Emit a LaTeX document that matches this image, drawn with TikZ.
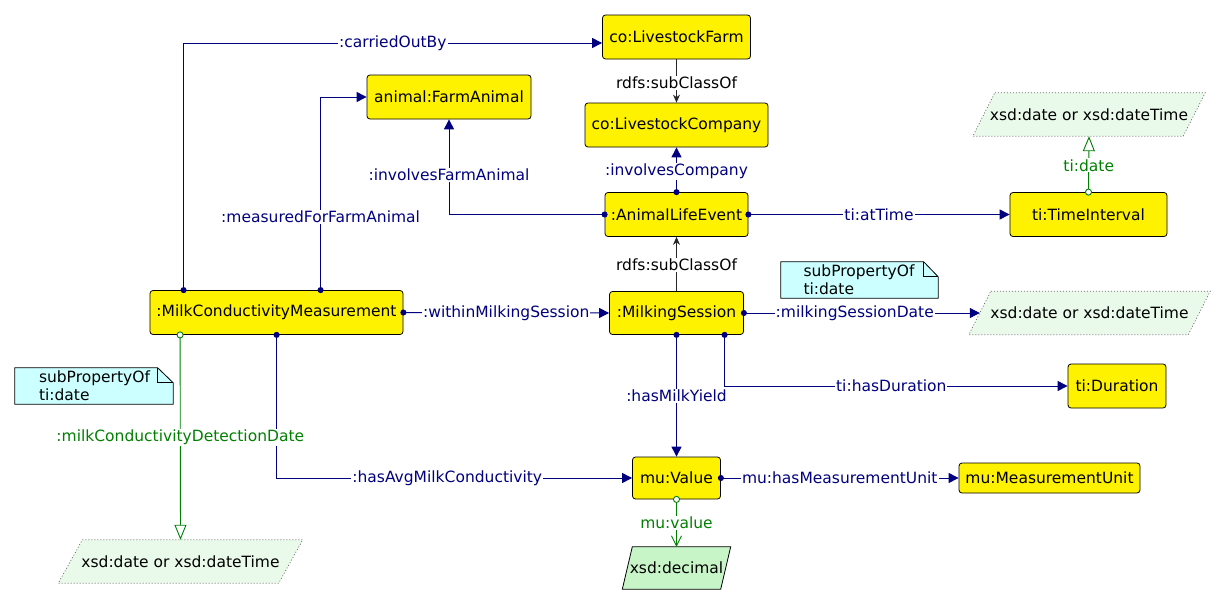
\documentclass[tikz,border=0pt]{standalone}
\usepackage{fontspec}
\setmainfont{DejaVu Sans}
\usetikzlibrary{arrows.meta,calc,backgrounds}
\definecolor{navy}{RGB}{0,0,128}
\definecolor{dgreen}{RGB}{0,128,0}
\definecolor{notecyan}{RGB}{204,255,255}
\definecolor{litgreen}{RGB}{234,250,234}
\definecolor{decgreen}{RGB}{200,245,200}
\newcommand\drawpara[3]{\begin{scope}[on background layer]\path[#3] ($(#1.north west)+(#2,0)$) -- (#1.north east) -- ($(#1.south east)-(#2,0)$) -- (#1.south west) -- cycle;\end{scope}}
\newcommand\drawnotebox[3]{\begin{scope}[on background layer]
\draw[draw=black,line width=0.8pt,fill=notecyan] (#1.north west) -- ($(#1.north east)+(-#2,0)$) -- ($(#1.north east)+(0,#3)$) |- (#1.south west) -- cycle;
\draw[line width=0.8pt] ($(#1.north east)+(-#2,0)$) |- ($(#1.north east)+(0,#3)$);
\end{scope}}
\begin{document}
\begin{tikzpicture}[x=1pt,y=-1pt,
  font=\fontsize{15.5}{18}\selectfont,
  cls/.style={draw=black,line width=0.8pt,fill=yellow,rounded corners=3pt,inner sep=0pt,minimum height=44pt,text=black},
  lit/.style={inner sep=0pt,minimum height=43pt,text=black},
  litbox/.style={draw=black!60,fill=litgreen,line width=0.7pt,dash pattern=on 1pt off 2pt},
  decbox/.style={draw=black,fill=decgreen,line width=0.8pt},
  prop/.style={navy,line width=1pt,{Circle[length=6pt]}-{Triangle[length=10pt,width=10pt]},shorten <=-3pt},
  dprop/.style={dgreen,line width=0.9pt,{Circle[open,length=7pt,fill=white]}-{Triangle[open,length=15pt,width=12pt,fill=white]},shorten <=-3.5pt},
  subc/.style={black!85,line width=0.9pt,-{Stealth[length=8pt,width=7pt]}},
  lab/.style={fill=white,inner sep=1pt,text=navy},
  glab/.style={fill=white,inner sep=1pt,text=dgreen},
  blab/.style={fill=white,inner sep=1pt,text=black},
  notetext/.style={anchor=west,align=left,inner sep=0pt,text=black},
  notebox/.style={minimum width=157pt,minimum height=36pt,inner sep=0pt}
]
\begin{scope}[on background layer]
\fill[white] (0,0) rectangle (1224,605);
\end{scope}
\useasboundingbox (0,0) rectangle (1224,605);

% class nodes
\node[cls,minimum width=148pt] (farm) at (676.5,37) {co:LivestockFarm};
\node[cls,minimum width=183pt] (comp) at (676.5,125) {co:LivestockCompany};
\node[cls,minimum width=164pt] (animal) at (449,97) {animal:FarmAnimal};
\node[cls,minimum width=143pt] (ale) at (676.5,214.5) {:AnimalLifeEvent};
\node[cls,minimum width=157pt] (ti) at (1088.5,214.5) {ti:TimeInterval};
\node[cls,minimum width=253pt] (mcm) at (276.5,312.5) {:MilkConductivityMeasurement};
\node[cls,minimum width=134pt,minimum height=43pt] (ms) at (676.5,313) {:MilkingSession};
\node[cls,minimum width=98pt] (dur) at (1117,386) {ti:Duration};
\node[cls,minimum width=88pt,minimum height=42pt] (val) at (676.5,478) {mu:Value};
\node[cls,minimum width=181pt,minimum height=30pt] (mu) at (1049.5,478) {mu:MeasurementUnit};

% literal nodes
\node[lit,minimum width=232pt] (xsdTR) at (1089,114.5) {xsd:date or xsd:dateTime};
\drawpara{xsdTR}{22}{litbox}
\node[lit,minimum width=241pt] (xsdR) at (1089.5,313) {xsd:date or xsd:dateTime};
\drawpara{xsdR}{22}{litbox}
\node[lit,minimum width=244pt] (xsdBL) at (180.5,561.5) {xsd:date or xsd:dateTime};
\drawpara{xsdBL}{24}{litbox}
\node[lit,minimum width=108pt,minimum height=42pt] (dec) at (676.5,568) {xsd:decimal};
\drawpara{dec}{10}{decbox}

% notes
\node[notebox] (n1) at (859.5,280) {};
\drawnotebox{n1}{14.5}{15}
\node[notetext] (n1t) at ($(n1.west)+(22.5,0)$) {subPropertyOf\\ti:date};
\node[notebox,minimum width=158pt] (n2) at (94,386) {};
\drawnotebox{n2}{15.5}{15}
\node[notetext] (n2t) at ($(n2.west)+(24,0)$) {subPropertyOf\\ti:date};

% connectors
\draw[prop] ($(mcm.north west)+(34,0)$) |- node[lab,pos=0.75]{:carriedOutBy} ($(farm.west)+(0,6)$);
\draw[prop] ($(mcm.north west)+(171,0)$) |- node[lab,pos=0.19]{:measuredForFarmAnimal} (animal.west);
\draw[prop] (ale.west) -| node[lab,pos=0.71]{:involvesFarmAnimal} (animal.south);
\draw[prop] (ale.north) -- node[lab,pos=0.47]{:involvesCompany} (comp.south);
\draw[subc] (farm.south) -- node[blab,pos=0.54]{rdfs:subClassOf} (comp.north);
\draw[subc] (ms.north) -- node[blab,pos=0.49]{rdfs:subClassOf} (ale.south);
\draw[prop] (ale.east) -- node[lab,pos=0.5]{ti:atTime} (ti.west);
\draw[dprop] (ti.north) -- node[glab,pos=0.48]{ti:date} (xsdTR.south);
\draw[prop] (mcm.east) -- node[lab]{:withinMilkingSession} (ms.west);
\draw[prop] (ms.east) -- node[lab,pos=0.47]{:milkingSessionDate} ($(xsdR.west)+(11,0)$);
\draw[prop] ($(ms.south west)+(115.5,0)$) |- node[lab,pos=0.743]{ti:hasDuration} (dur.west);
\draw[prop] (ms.south) -- node[lab]{:hasMilkYield} (val.north);
\draw[prop] ($(mcm.south west)+(127,0)$) |- node[lab,pos=0.74]{:hasAvgMilkConductivity} (val.west);
\draw[dprop] ($(mcm.south west)+(30.5,0)$) -- node[glab]{:milkConductivityDetectionDate} (xsdBL.north);
\draw[prop] (val.east) -- node[lab]{mu:hasMeasurementUnit} (mu.west);
\draw[dgreen,line width=0.9pt,{Circle[open,length=7pt,fill=white]}-{Straight Barb[length=10pt,width=10pt]},shorten <=-3.5pt] (val.south) -- node[glab]{mu:value} (dec.north);
\end{tikzpicture}
\end{document}
